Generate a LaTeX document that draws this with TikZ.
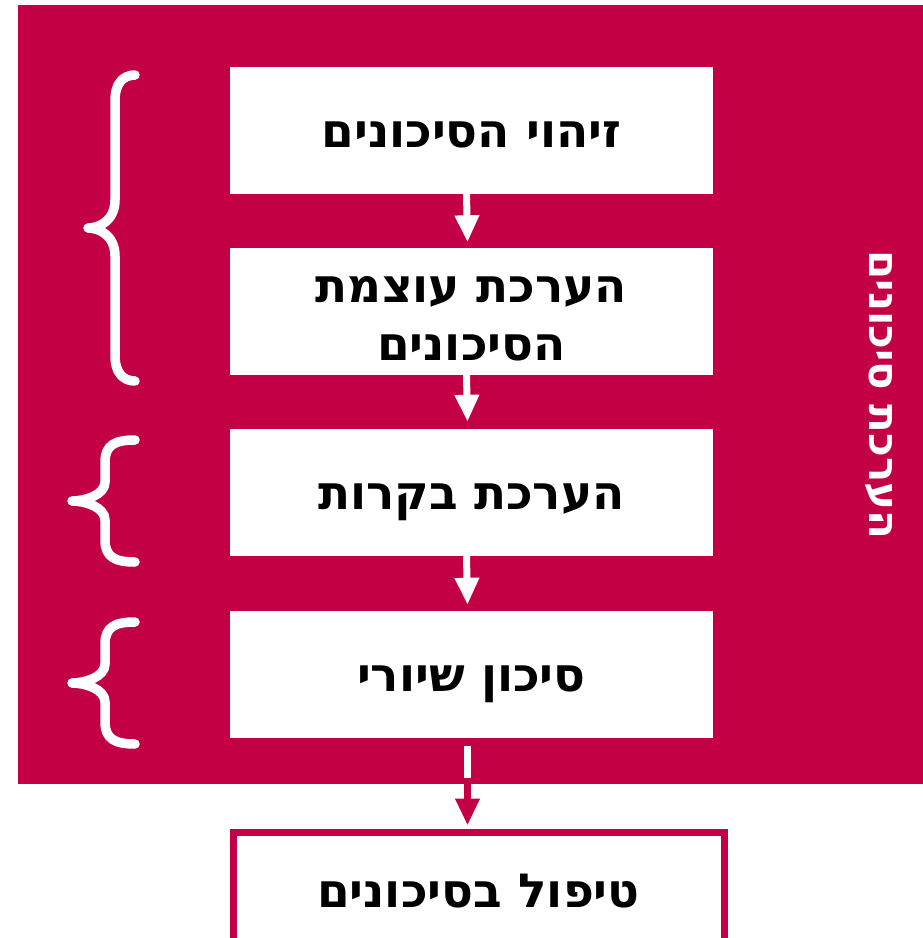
\documentclass[tikz,border=0pt]{standalone}
\usepackage{fontspec}
\newfontfamily\hebfont[Script=Hebrew]{DejaVu Sans}
\TeXXeTstate=1
\usetikzlibrary{arrows.meta}
\definecolor{crim}{HTML}{C30045}
\tikzset{
  stepbox/.style={fill=white, minimum width=483pt, minimum height=127pt, inner sep=0pt, align=center, font=\hebfont\bfseries\fontsize{47}{58}\selectfont, text height=34pt, text depth=-6pt},
  flowarrow/.style={draw=white, line width=7pt, -{Triangle[width=23pt,length=27pt]}},
  bracestyle/.style={draw=white, line width=9.5pt, line cap=round, line join=round}
}
\begin{document}
\begin{tikzpicture}[x=1pt,y=-1pt]
\useasboundingbox (0,0) rectangle (923,938);
\begin{scope}
\clip (0,0) rectangle (923,938);
\fill[crim] (18,5) rectangle (923,784);
\node[stepbox] (b1) at (471.5,130) {\beginR זיהוי הסיכונים\endR};
\node[stepbox, text height=98pt, text depth=0pt] (b2) at (471.5,311) {\beginR הערכת עוצמת\endR\\\beginR הסיכונים\endR};
\node[stepbox] (b3) at (471.5,492.5) {\beginR הערכת בקרות\endR};
\node[stepbox] (b4) at (471.5,674.5) {\beginR סיכון שיורי\endR};
\node[draw=crim, fill=white, line width=7pt, minimum width=491pt, minimum height=122pt, inner sep=0pt, font=\hebfont\bfseries\fontsize{47}{58}\selectfont, text height=34pt, text depth=6pt] (b5) at (478.5,893) {\beginR טיפול בסיכונים\endR};
\node[text=white, rotate=-90, font=\hebfont\bfseries\fontsize{42}{48}\selectfont] (side) at (879,395) {\beginR הערכת סיכונים\endR};
\draw[flowarrow] ([xshift=-5pt]b1.south) -- ([xshift=-4pt,yshift=5pt]b2.north);
\draw[flowarrow] ([xshift=-5pt]b2.south) -- ([xshift=-4pt,yshift=7pt]b3.north);
\draw[flowarrow] ([xshift=-5pt]b3.south) -- ([xshift=-4pt,yshift=6pt]b4.north);
\coordinate (d1) at ([xshift=-4pt,yshift=-8pt]b4.south);
\coordinate (d2) at ([xshift=-4pt,yshift=-40pt]b4.south);
\coordinate (d3) at ([xshift=-4pt,yshift=-46pt]b4.south);
\draw[white, line width=7pt] (d1) -- (d2);
\draw[draw=crim, line width=7pt, -{Triangle[width=23pt,length=27pt]}] (d3) -- ([xshift=-11pt,yshift=3pt]b5.north);
\draw[bracestyle] (135,75) .. controls (122,75) and (115,85) .. (115,100) -- (115,200) .. controls (115,220) and (100,228) .. (88,228) .. controls (100,228) and (115,236) .. (115,256) -- (115,356) .. controls (115,371) and (122,381) .. (135,381);
\draw[bracestyle] (135,440) .. controls (115,440) and (105,445) .. (105,462) -- (105,482) .. controls (105,495) and (85,501) .. (72,501) .. controls (85,501) and (105,507) .. (105,520) -- (105,540) .. controls (105,557) and (115,562) .. (135,562);
\draw[bracestyle] (135,622) .. controls (115,622) and (105,627) .. (105,644) -- (105,664) .. controls (105,677) and (85,683) .. (72,683) .. controls (85,683) and (105,689) .. (105,702) -- (105,722) .. controls (105,739) and (115,744) .. (135,744);
\end{scope}
\end{tikzpicture}
\end{document}
